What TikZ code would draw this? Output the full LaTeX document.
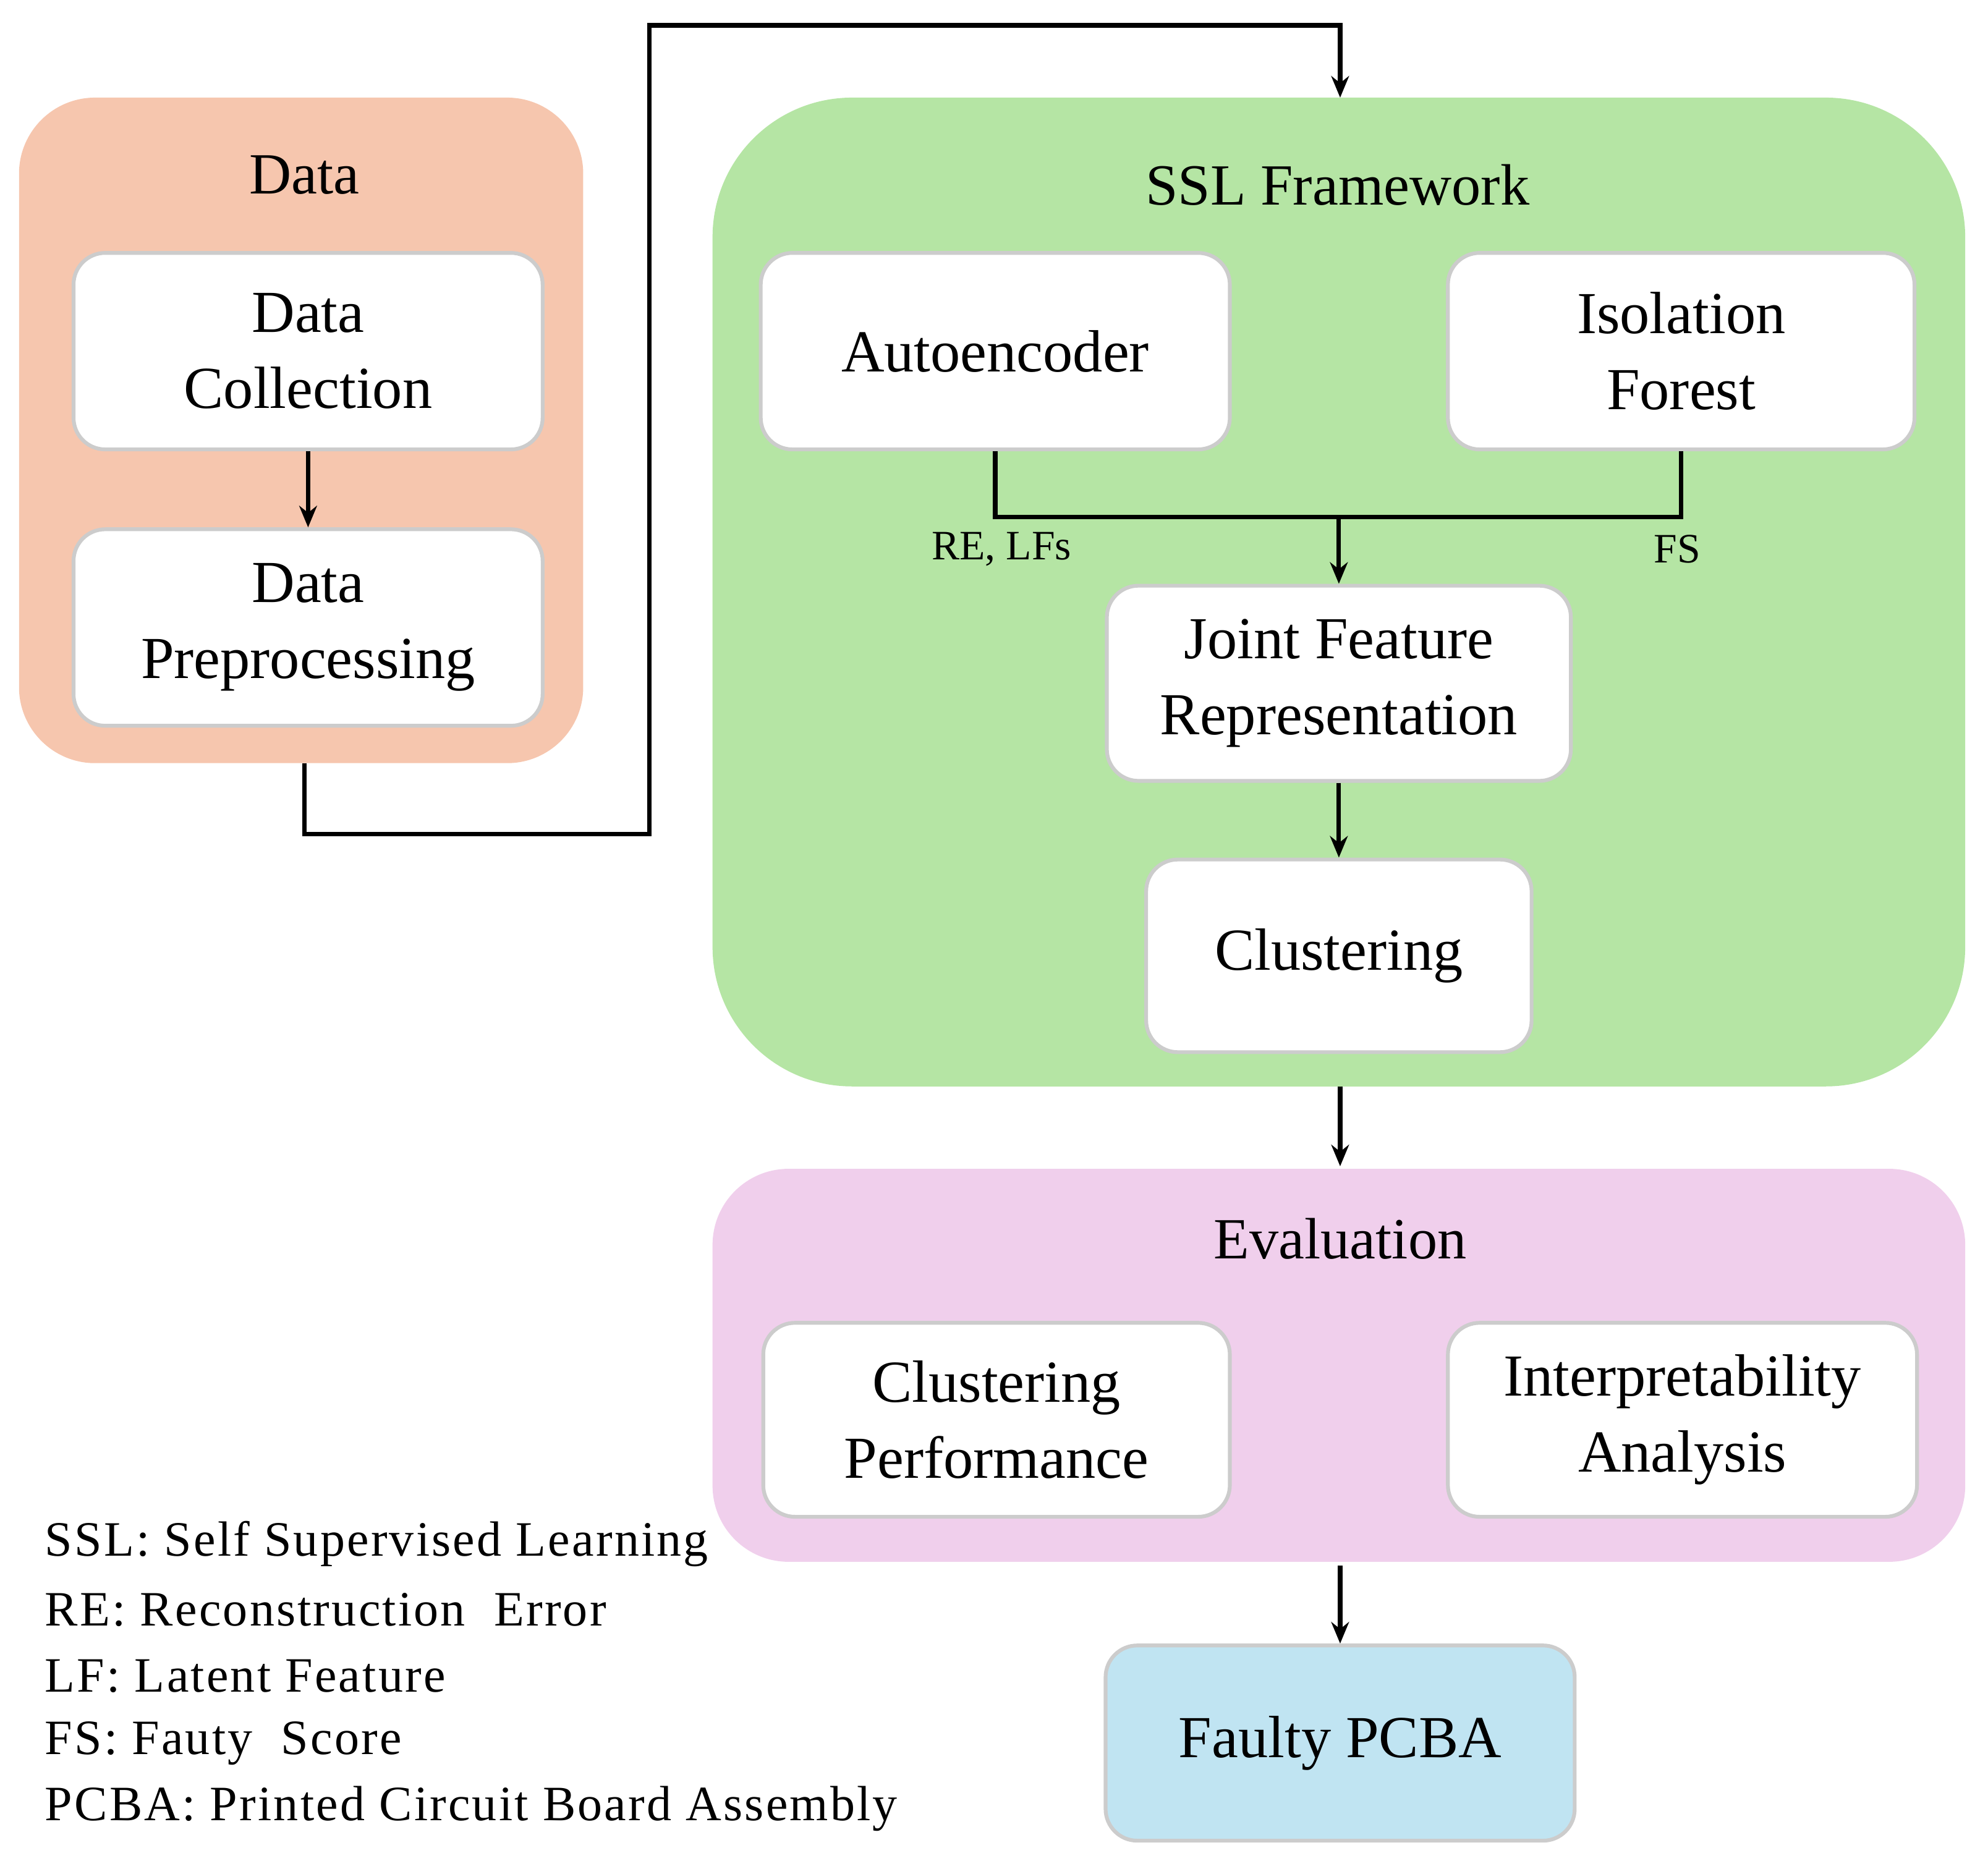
\documentclass[tikz,border=0pt]{standalone}
\usepackage{fontspec}
\setmainfont{Liberation Serif}
\usetikzlibrary{arrows.meta}
\definecolor{peach}{HTML}{F6C6AE}
\definecolor{sslg}{HTML}{B5E5A4}
\definecolor{pinkc}{HTML}{F0CFEC}
\definecolor{bluec}{HTML}{C0E4F2}
\begin{document}
\begin{tikzpicture}[x=1pt,y=-1pt,
  box/.style={draw=black!20,line width=3pt,fill=white,rounded corners=25pt,align=center,font=\fontsize{47}{60}\selectfont,inner sep=0},
  ttl/.style={font=\fontsize{46}{50}\selectfont},
  lbl/.style={font=\fontsize{33}{36}\selectfont},
  leg/.style={font=\fontsize{39}{40}\selectfont\addfontfeature{LetterSpace=4},anchor=west},
  arr/.style={line width=3.5pt,-{Stealth[length=17pt,width=14pt]}},
  ln/.style={line width=3.5pt}]
\useasboundingbox (0,0) rectangle (1568,1468);
% groups
\fill[peach,rounded corners=60pt] (15,77) rectangle (460,602);
\fill[sslg,rounded corners=110pt] (562,77) rectangle (1550,857);
\fill[pinkc,rounded corners=60pt] (562,922) rectangle (1550,1232);
\node[ttl] (tdata) at (240,138) {Data};
\node[ttl] (tssl) at (1055,146) {SSL Framework};
\node[ttl] (teval) at (1057,977) {Evaluation};
% boxes
\node[box,minimum width=370pt,minimum height=155pt] (dc) at (243,277) {Data\\Collection};
\node[box,minimum width=370pt,minimum height=155pt] (dp) at (243,495) {Data\\Preprocessing};
\node[box,minimum width=370pt,minimum height=155pt] (ae) at (785,277) {Autoencoder};
\node[box,minimum width=368pt,minimum height=155pt] (if) at (1326,277) {Isolation\\Forest};
\node[box,minimum width=366pt,minimum height=154pt] (jf) at (1056,539) {Joint Feature\\Representation};
\node[box,minimum width=304pt,minimum height=152pt] (cl) at (1056,754) {Clustering};
\node[box,minimum width=368pt,minimum height=153pt] (cp) at (786,1120) {Clustering\\Performance};
\node[box,minimum width=370pt,minimum height=153pt] (ia) at (1327,1120) {Interpretability\\Analysis};
\node[box,fill=bluec,minimum width=370pt,minimum height=154pt] (fp) at (1057,1375) {Faulty PCBA};
% connectors
\coordinate (dbot) at (240,602);
\coordinate (stop) at (1057,77);
\draw[arr] (dc) -- (dp);
\draw[arr] (dbot) -- (240,658) -- (512,658) -- (512,20) -- (1057,20) -- (stop);
\coordinate (j) at (1056,408);
\draw[ln] (ae.south) -- (ae.south |- j) -- (if.south |- j) -- (if.south);
\draw[arr] (j) -- (jf.north);
\draw[arr] (jf) -- (cl);
\coordinate (sbot) at (1057,857);
\coordinate (etop) at (1057,920);
\draw[arr] (sbot) -- (etop);
\coordinate (ebot) at (1057,1235);
\draw[arr] (ebot) -- (fp.north);
\node[lbl] (l1) at (790,433) {RE, LFs};
\node[lbl] (l2) at (1323,433) {FS};
% legend
\node[leg] (g1) at (32,1218) {SSL: Self Supervised Learning};
\node[leg] (g2) at (32,1270) {RE: Reconstruction\ \ Error};
\node[leg] (g3) at (32,1322) {LF: Latent Feature};
\node[leg] (g4) at (32,1375) {FS: Fauty\ \ Score};
\node[leg] (g5) at (32,1427) {PCBA: Printed Circuit Board Assembly};
\end{tikzpicture}
\end{document}
